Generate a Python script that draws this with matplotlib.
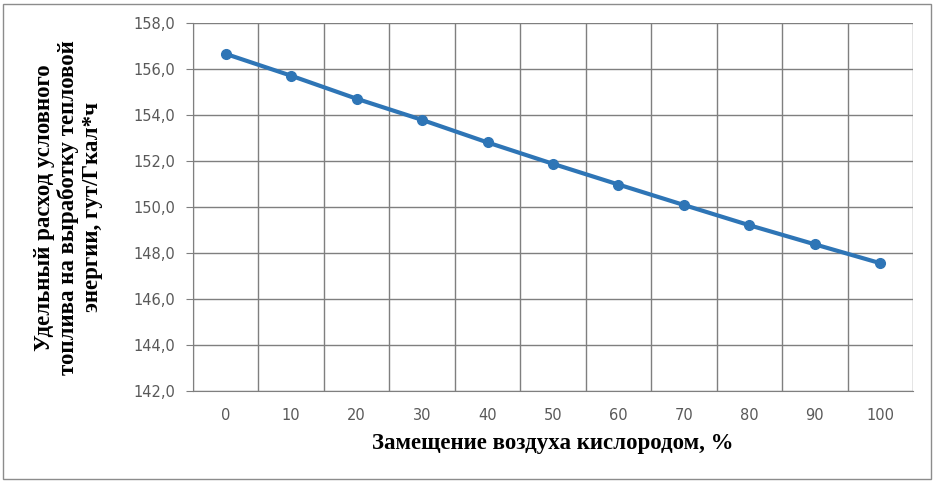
import matplotlib.pyplot as plt
import numpy as np
from matplotlib.patches import Rectangle

# Данные
oxygen_pct = [0, 10, 20, 30, 40, 50, 60, 70, 80, 90, 100]
fuel_rate = [156.67, 155.72, 154.72, 153.80, 152.82, 151.89,
             150.99, 150.10, 149.22, 148.39, 147.57]
y_ticks = [142, 144, 146, 148, 150, 152, 154, 156, 158]

fig = plt.figure(figsize=(9.35, 4.82), dpi=100)
ax = fig.add_axes([193/935, 1 - 391.3/482, 720/935, 368/482])

pos = np.arange(len(oxygen_pct))
ax.plot(pos, fuel_rate, color='#2E75B6', lw=3, marker='o', ms=7, zorder=3)

ax.set_xlim(-0.5, len(oxygen_pct) - 0.5)
ax.set_ylim(142, 158)
ax.set_yticks(y_ticks)
ax.set_yticklabels([f"{v:.1f}".replace('.', ',') for v in y_ticks])
ax.set_xticks(pos)
ax.set_xticklabels([str(v) for v in oxygen_pct])
ax.set_xticks(np.arange(-0.5, len(oxygen_pct)), minor=True)

grid_c = '#7f7f7f'
ax.grid(True, which='major', axis='y', color=grid_c, lw=1)
ax.grid(True, which='minor', axis='x', color=grid_c, lw=1)
for s in ax.spines.values():
    s.set_visible(False)
ax.spines['left'].set_visible(True)
ax.spines['left'].set_color(grid_c)
ax.spines['bottom'].set_visible(True)
ax.spines['bottom'].set_color(grid_c)

ax.tick_params(axis='x', which='major', length=0, pad=12, labelsize=10.5, labelcolor='#595959')
ax.tick_params(axis='x', which='minor', length=0)
ax.tick_params(axis='y', length=5, color=grid_c, pad=8, labelsize=10.5, labelcolor='#595959')
for lab in ax.get_xticklabels() + ax.get_yticklabels():
    lab.set_family(['Liberation Sans Narrow', 'DejaVu Sans'])

ax.set_xlabel("Замещение воздуха кислородом, %", family='Liberation Serif',
              fontweight='bold', fontsize=16.5, labelpad=7)
ax.set_ylabel("Удельный расход условного\nтоплива на выработку тепловой\nэнергии, гут/Гкал*ч",
              family='Liberation Serif', fontweight='bold', fontsize=16.5,
              linespacing=1.15, labelpad=22)

fig.patches.append(Rectangle((3/935, 3/482), 928/935, 475/482, transform=fig.transFigure,
                             fill=False, edgecolor='#8c8c8c', lw=1))

fig.savefig('out.png', dpi=100)
